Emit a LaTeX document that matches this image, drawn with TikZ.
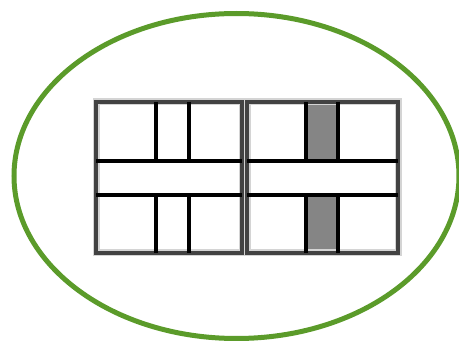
\documentclass[tikz,border=0pt]{standalone}
\usetikzlibrary{positioning}
\definecolor{ringgreen}{HTML}{5B9B2A}
\definecolor{halogray}{HTML}{D4D4D4}
\definecolor{edgegray}{HTML}{424242}
\definecolor{bandgray}{HTML}{858585}

\begin{document}
\begin{tikzpicture}[x=1pt,y=-1pt,
  halo/.style={draw=halogray,line width=7pt},
  edge/.style={draw=edgegray,line width=3.5pt},
  bar/.style={draw=black,line width=4pt}]
  \useasboundingbox (0,0) rectangle (459,342);
  % outer ring
  \draw[ringgreen,line width=5pt] (236.5,176) ellipse [x radius=222.5,y radius=162.5];
  % shaded bands of the right block
  \fill[bandgray] (306,102) rectangle (338,161);
  \fill[bandgray] (306,195) rectangle (338,253);
  % two blocks
  \foreach \xa/\xb/\xc/\xd in {96/156/189/242,247/306/338/398}{
    \draw[halo] (\xa,102) rectangle (\xd,253);
    \draw[edge] (\xa,102) rectangle (\xd,253);
    \draw[bar] (\xa,161) -- (\xd,161);
    \draw[bar] (\xa,195) -- (\xd,195);
    \draw[bar] (\xb,102) -- (\xb,161);
    \draw[bar] (\xc,102) -- (\xc,161);
    \draw[bar] (\xb,195) -- (\xb,253);
    \draw[bar] (\xc,195) -- (\xc,253);
  }
\end{tikzpicture}
\end{document}
